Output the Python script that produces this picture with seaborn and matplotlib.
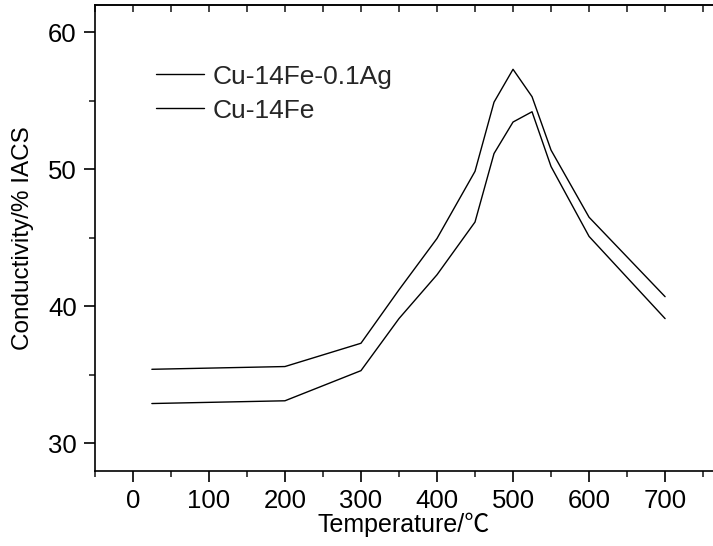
import matplotlib
matplotlib.use("Agg")
import matplotlib.pyplot as plt
import seaborn as sns
import pandas as pd
from matplotlib.ticker import MultipleLocator

temperature = [25, 200, 300, 350, 400, 450, 475, 500, 525, 550, 600, 700]
cu_fe_ag = [35.4, 35.6, 37.3, 41.2, 44.95, 49.85, 54.9, 57.3, 55.3, 51.4, 46.5, 40.7]
cu_fe = [32.9, 33.1, 35.3, 39.1, 42.3, 46.15, 51.15, 53.45, 54.2, 50.2, 45.1, 39.1]
series_names = ["Cu-14Fe-0.1Ag", "Cu-14Fe"]

df = pd.DataFrame({
    "Temperature": temperature * 2,
    "Conductivity": cu_fe_ag + cu_fe,
    "Alloy": [series_names[0]] * len(temperature) + [series_names[1]] * len(temperature),
})

sns.set_theme(style="white")
plt.rcParams["font.family"] = ["Liberation Sans", "Noto Sans CJK SC", "DejaVu Sans"]

fig = plt.figure(figsize=(7.13, 5.46), dpi=100)
ax = fig.add_axes([0.133, 0.138, 0.867, 0.853])

sns.lineplot(data=df, x="Temperature", y="Conductivity", hue="Alloy",
             palette=["black", "black"], linewidth=1.0, ax=ax, legend=True,
             sort=False)

ax.set_xlim(-50, 763)
ax.set_ylim(28, 62)
ax.xaxis.set_major_locator(MultipleLocator(100))
ax.xaxis.set_minor_locator(MultipleLocator(50))
ax.yaxis.set_major_locator(MultipleLocator(10))
ax.yaxis.set_minor_locator(MultipleLocator(5))

for side in ["left", "bottom", "top"]:
    ax.spines[side].set_visible(True)
    ax.spines[side].set_color("black")
    ax.spines[side].set_linewidth(1.2)
ax.spines["right"].set_visible(False)

ax.tick_params(axis="x", which="major", direction="out", length=8, width=1.2,
               bottom=True, top=False, labelsize=18.5, colors="black", pad=5)
ax.tick_params(axis="x", which="minor", direction="out", length=4, width=1.2,
               bottom=True, top=False)
ax.tick_params(axis="y", which="major", direction="out", length=8, width=1.2,
               left=True, labelsize=18.5, colors="black", pad=5)
ax.tick_params(axis="y", which="minor", direction="out", length=4, width=1.2,
               left=True)

# inward ticks along the top spine
top = ax.secondary_xaxis("top")
top.xaxis.set_major_locator(MultipleLocator(50))
top.tick_params(axis="x", direction="in", length=5, width=1.2, labeltop=False)
top.spines["top"].set_linewidth(1.2)

ax.set_xlabel("Temperature/℃", fontsize=18, color="black", labelpad=0)
ax.set_ylabel("Conductivity/% IACS", fontsize=17.5, color="black", labelpad=10)

leg = ax.legend(loc="upper left", bbox_to_anchor=(0.099, 0.872), frameon=False,
                fontsize=19, handlelength=1.8, handletextpad=0.35,
                labelspacing=0.38, borderaxespad=0, borderpad=0)
for line in leg.get_lines():
    line.set_linewidth(1.0)

fig.savefig("out.png", dpi=100)
